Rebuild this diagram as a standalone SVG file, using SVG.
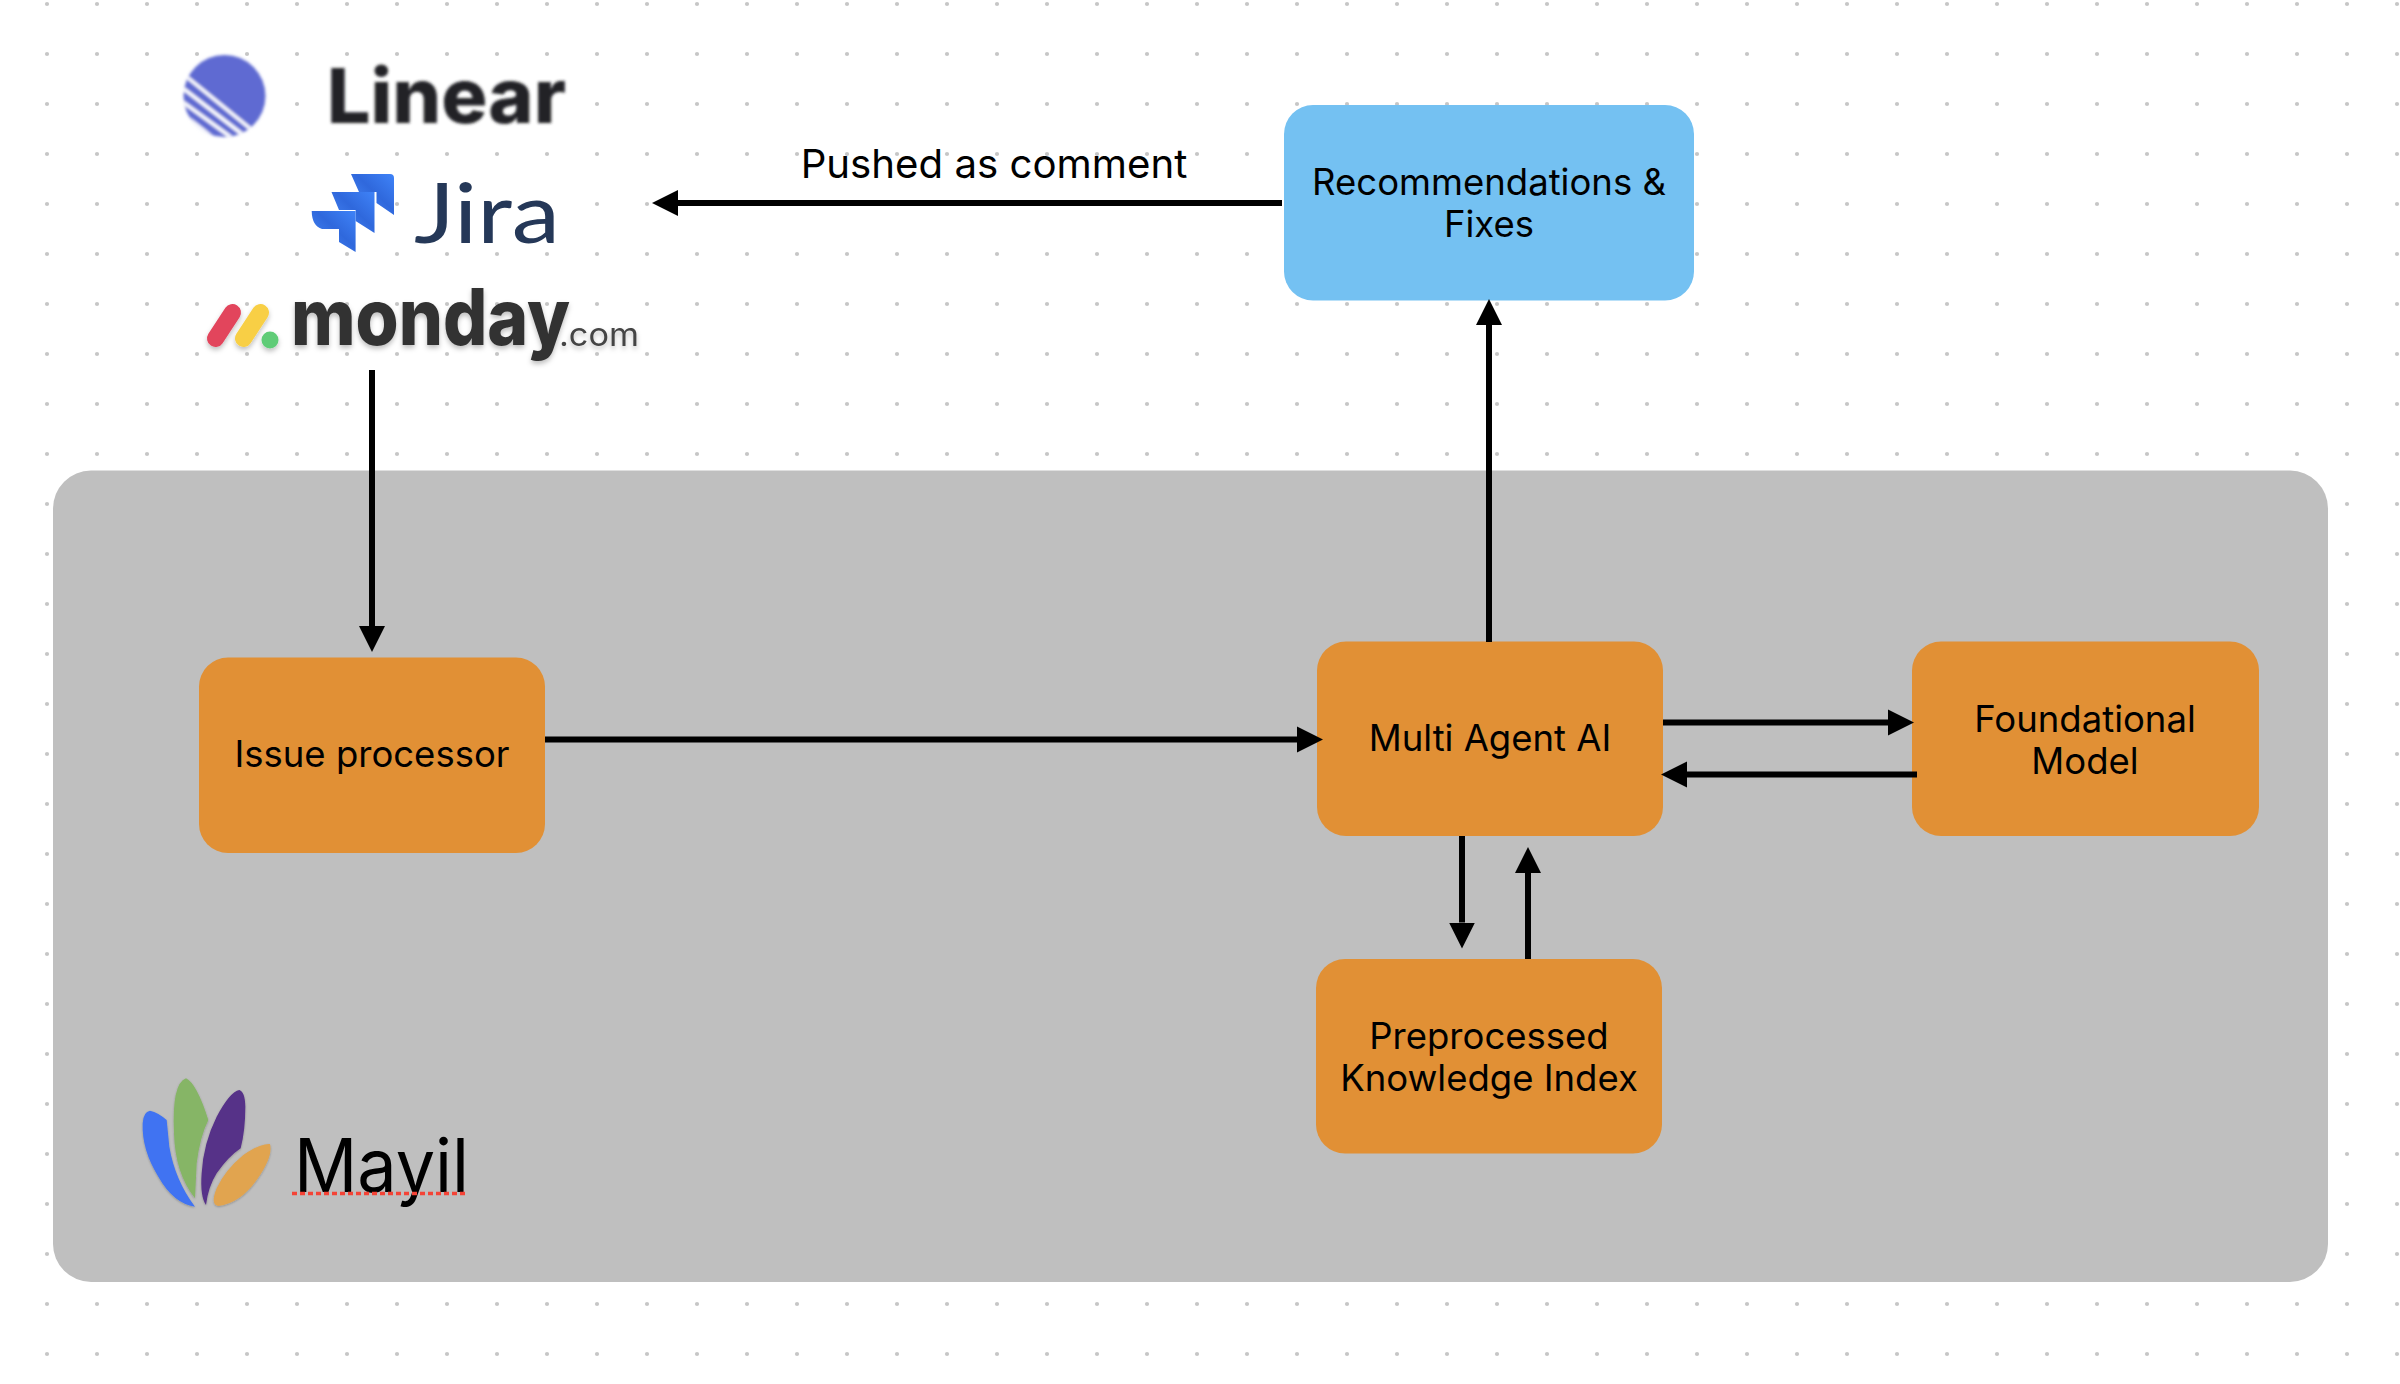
<svg xmlns="http://www.w3.org/2000/svg" width="2400" height="1384" viewBox="0 0 2400 1384">
<style>
.lbl{font-family:Inter,"Liberation Sans",sans-serif;font-size:36.5px;fill:#000;text-anchor:middle}
.box{fill:#e19035}
.conn{stroke:#000;stroke-width:6;fill:none;marker-end:url(#arrow)}
</style>
<defs>
<pattern id="dots" width="50" height="50" patternUnits="userSpaceOnUse"><circle cx="47" cy="4" r="2.1" fill="#c6c6c6"/></pattern>
<marker id="arrow" markerUnits="userSpaceOnUse" markerWidth="27" markerHeight="28" refX="0" refY="14" orient="auto"><path d="M0 1L26 14L0 27Z" fill="#000"/></marker>
<filter id="soft" x="-10%" y="-10%" width="120%" height="120%"><feGaussianBlur stdDeviation="1.5"/></filter>
<filter id="shadow" x="-10%" y="-10%" width="120%" height="125%"><feDropShadow dx="0" dy="3" stdDeviation="2.5" flood-color="#000" flood-opacity="0.25"/></filter>
<linearGradient id="jg" x1="0" y1="1" x2="1" y2="0"><stop offset="0" stop-color="#4a8cfa"/><stop offset="0.55" stop-color="#2f68dc"/><stop offset="1" stop-color="#3f83f8"/></linearGradient>
<clipPath id="lc"><circle cx="224.5" cy="96" r="41"/></clipPath>
</defs>
<rect width="2400" height="1384" fill="#fff"/>
<rect width="2400" height="1384" fill="url(#dots)"/>
<rect id="platform" x="53" y="470.500" width="2275" height="811.500" rx="38" fill="#bfbfbf"/>

<g id="logo-linear">
<rect x="312" y="60" width="272" height="70" fill="#fff"/>
<g filter="url(#soft)">
<circle cx="224.5" cy="96" r="41" fill="#5e6ad2"/>
<g clip-path="url(#lc)" stroke="#fff" stroke-width="3.5">
<path d="M182 73L252 130M180 86L242 134M180 100L232 138M180 112L216 140"/>
</g>
<text x="327" y="123" font-family="Inter,'Liberation Sans',sans-serif" font-weight="800" font-size="76" fill="#222326" textLength="239" lengthAdjust="spacingAndGlyphs">Linear</text>
</g>
</g>

<g id="logo-jira">
<rect x="410" y="194" width="150" height="20" fill="#fff"/>
<path fill="url(#jg)" d="M351 174H390Q394 174 394 178V215L376.500 203V192H359Z"/>
<path fill="url(#jg)" d="M331.500 192H374.500V233L355.600 221V210H339Z"/>
<path fill="url(#jg)" d="M311.700 211H355.600V252L339 242V229H322Q312 226 311.700 211Z"/>
<text x="414" y="243" font-family="Lato,Inter,sans-serif" font-size="84" fill="#253858" textLength="146" lengthAdjust="spacingAndGlyphs">Jira</text>
</g>

<g id="logo-monday" filter="url(#shadow)">
<path d="M232.500 312.500L215.500 338.500" stroke="#e2445c" stroke-width="17" stroke-linecap="round" fill="none"/>
<path d="M260.500 312.500L243.500 338.500" stroke="#f8cf45" stroke-width="17" stroke-linecap="round" fill="none"/>
<circle cx="270" cy="340" r="8.500" fill="#5ecc77"/>
<text font-family="Inter,'Liberation Sans',sans-serif"><tspan x="291" y="345" font-weight="800" font-size="78" fill="#333" textLength="279" lengthAdjust="spacingAndGlyphs">monday</tspan><tspan x="559" y="346" font-size="32" fill="#444" textLength="80" lengthAdjust="spacingAndGlyphs">.com</tspan></text>
</g>

<g id="logo-mayil">
<g transform="translate(60 1040) scale(0.33333)" filter="url(#shadow)">
<path fill="#3f73f2" d="M270 212Q295 218 320 240L328 320Q345 420 405 500Q340 490 295 410Q245 330 248 250Q250 215 270 212Z"/>
<path fill="#86b566" d="M378 115Q410 130 445 240Q420 290 410 370L405 475Q345 400 342 280Q335 130 378 115Z"/>
<path fill="#563088" d="M538 150Q555 155 556 200Q556 270 542 325Q505 350 470 400Q445 440 438 495Q420 470 425 400Q430 310 470 230Q510 155 538 150Z"/>
<path fill="#e1a44f" d="M630 312Q640 350 590 420Q540 490 475 498Q450 495 470 445Q495 390 550 345Q600 310 630 312Z"/>
</g>
<text x="294" y="1191.500" font-family="Inter,'Liberation Sans',sans-serif" font-size="74" fill="#000" textLength="175" lengthAdjust="spacingAndGlyphs">Mayil</text>
<line x1="292" y1="1193.500" x2="466" y2="1193.500" stroke="#f44336" stroke-width="3.700" stroke-dasharray="5 3"/>
</g>

<g id="issue-processor"><rect class="box" x="199" y="657.500" width="346" height="195.500" rx="29"/><text class="lbl" x="372" y="767">Issue processor</text></g>
<g id="multi-agent"><rect class="box" x="1317" y="641.500" width="346" height="194.500" rx="29"/><text class="lbl" x="1490" y="750.500">Multi Agent AI</text></g>
<g id="foundational"><rect class="box" x="1912" y="641.500" width="347" height="194.500" rx="29"/><text class="lbl" x="2085" y="732">Foundational</text><text class="lbl" x="2085" y="774">Model</text></g>
<g id="knowledge"><rect class="box" x="1316" y="959" width="346" height="194.500" rx="29"/><text class="lbl" x="1489" y="1049">Preprocessed</text><text class="lbl" x="1489" y="1091">Knowledge Index</text></g>
<g id="recommendations"><rect x="1284" y="105" width="410" height="195.500" rx="29" fill="#74c1f2"/><text class="lbl" x="1489" y="195">Recommendations &amp;</text><text class="lbl" x="1489" y="237">Fixes</text></g>
<g id="comment-label"><text class="lbl" x="994" y="177.500" style="font-size:40.200px">Pushed as comment</text></g>

<g id="connectors">
<path class="conn" d="M372 370V626"/>
<path class="conn" d="M545 739.500H1297"/>
<path class="conn" d="M1489 642V325"/>
<path class="conn" d="M1282 203H678"/>
<path class="conn" d="M1663 722.500H1888"/>
<path class="conn" d="M1917 774.500H1687"/>
<path class="conn" d="M1462 836V922.500"/>
<path class="conn" d="M1528 959V873"/>
</g>
</svg>
